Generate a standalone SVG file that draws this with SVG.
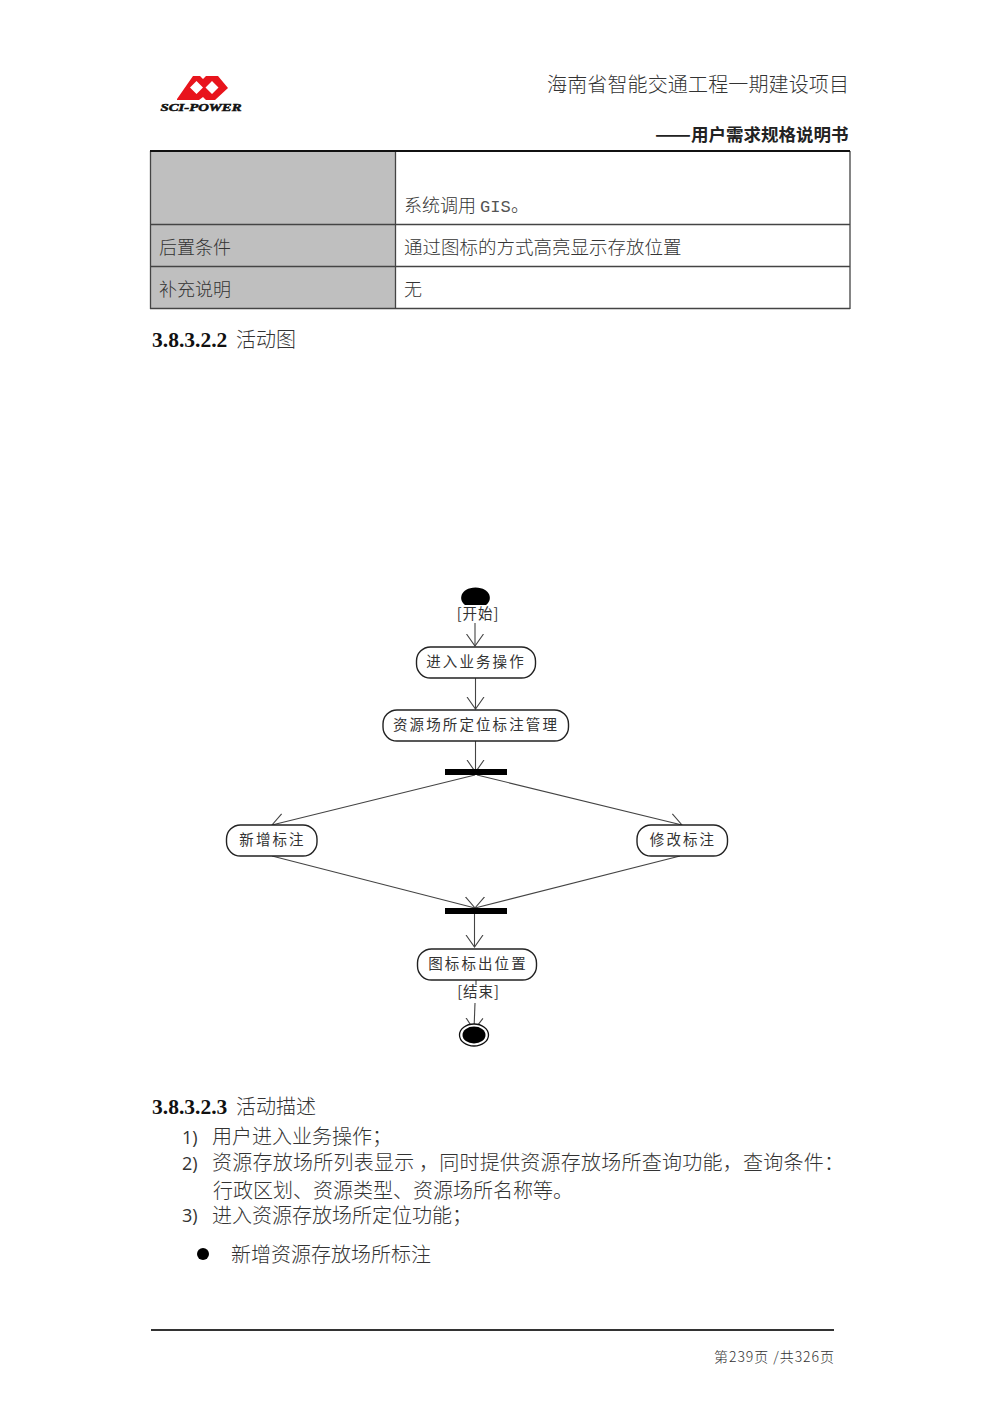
<svg xmlns="http://www.w3.org/2000/svg" width="1000" height="1415" viewBox="0 0 1000 1415">
<style>
text{font-family:"Noto Sans CJK SC","Liberation Serif",sans-serif;fill:#333;font-weight:300}
.b{font-size:20px}
.n{font-size:14.500px;letter-spacing:2.100px;text-anchor:middle;fill:#333;font-weight:400}
.g{font-size:14.500px;text-anchor:middle;letter-spacing:.9px;fill:#333;font-weight:400}
.h{font-family:"Liberation Serif",serif;font-weight:700;font-size:21.500px;fill:#111}
.l{font-family:"Open Sans",sans-serif;font-size:18px;font-weight:400}
.a{fill:#fff;stroke:#222;stroke-width:1.4}
.c line,.c path{fill:none;stroke:#444;stroke-width:1.1}
</style>
<defs>
<marker id="v" markerUnits="userSpaceOnUse" markerWidth="24" markerHeight="24" refX="12" refY="12" orient="auto"><path d="M0 3.500L12 12L0 20.500" fill="none" stroke="#444" stroke-width="1.1"/></marker>
</defs>
<rect width="1000" height="1415" fill="#fff"/>
<g id="logo">
<path d="M177 99L193 76H200L203 79L206 76H218L228 88L215 100H206L203 97L199 100H177Z" fill="#e8141c"/>
<path d="M196.500 81L203 87.500L196.500 94L190 87.500Z M212 81L218.500 87.500L212 94L205.500 87.500Z" fill="#fff"/>
<text x="201" y="111" text-anchor="middle" textLength="81" lengthAdjust="spacingAndGlyphs" style="font-family:'Liberation Serif',serif;font-size:10.500px;font-weight:700;font-style:italic;fill:#111;stroke:#111;stroke-width:.5">SCI-POWER</text>
</g>
<g id="header">
<text class="b" x="547" y="92" textLength="302">海南省智能交通工程一期建设项目</text>
<text x="655" y="141" textLength="36" lengthAdjust="spacingAndGlyphs" style="font-size:17.500px;font-weight:700;fill:#222">——</text>
<text x="691" y="141" style="font-size:17.500px;font-weight:700;fill:#222">用户需求规格说明书</text>
</g>
<g id="table">
<rect x="151" y="152" width="244" height="157" fill="#bfbfbf"/>
<path d="M150.500 309V151M395.500 152V309M850 151V309M150 224.500H850M150 266.500H850M150 308.500H850" fill="none" stroke="#444" stroke-width="1.300"/>
<path d="M150 151H850" stroke="#111" stroke-width="2.200"/>
<text x="404" y="212" style="font-size:18px">系统调用</text>
<text x="480" y="212" style="font-family:'Liberation Mono',monospace;font-size:17px;fill:#555;font-weight:400">GIS</text>
<text x="511" y="212" style="font-size:18px">。</text>
<text class="b" x="159" y="254" style="font-size:18px">后置条件</text>
<text class="b" x="404" y="254" style="font-size:18.500px">通过图标的方式高亮显示存放位置</text>
<text class="b" x="159" y="296" style="font-size:18px">补充说明</text>
<text class="b" x="404" y="296" style="font-size:18px">无</text>
</g>
<g id="heading1"><text class="h" x="152" y="347">3.8.3.2.2</text><text class="b" x="236" y="347">活动图</text></g>
<g class="c" id="connectors">
<line x1="475" y1="623" x2="475" y2="646" marker-end="url(#v)"/>
<line x1="475.500" y1="678" x2="475.500" y2="709" marker-end="url(#v)"/>
<line x1="475.500" y1="741" x2="475.500" y2="772" marker-end="url(#v)"/>
<line x1="475" y1="775" x2="272" y2="825" marker-end="url(#v)"/>
<line x1="477" y1="775" x2="682" y2="825" marker-end="url(#v)"/>
<line x1="272" y1="856" x2="475" y2="908" marker-end="url(#v)"/>
<line x1="680" y1="856" x2="475" y2="908" marker-end="url(#v)"/>
<line x1="474.500" y1="914" x2="474.500" y2="947" marker-end="url(#v)"/>
<line x1="476" y1="980" x2="476" y2="985"/>
<line x1="475" y1="1003" x2="474" y2="1030" marker-end="url(#v)"/>
</g>
<g id="start"><path d="M465 605C458 600 460 588 475.500 587.500C491 588 493 600 486 605Z" fill="#000"/><text class="g" x="478" y="619">[开始]</text></g>
<g id="n1"><rect class="a" x="416.500" y="647" width="119" height="31" rx="14"/><text class="n" x="476" y="667">进入业务操作</text></g>
<g id="n2"><rect class="a" x="383" y="710" width="185.500" height="31" rx="14"/><text class="n" x="476" y="730">资源场所定位标注管理</text></g>
<g id="fork"><rect x="445" y="769" width="62" height="6" fill="#000"/></g>
<g id="n3"><rect class="a" x="226.500" y="825" width="90.500" height="31" rx="14"/><text class="n" x="272.500" y="845">新增标注</text></g>
<g id="n4"><rect class="a" x="637" y="825" width="90.500" height="31" rx="14"/><text class="n" x="683" y="845">修改标注</text></g>
<g id="join"><rect x="445" y="908" width="62" height="6" fill="#000"/></g>
<g id="n5"><rect class="a" x="417.500" y="949" width="119" height="31" rx="14"/><text class="n" x="478" y="969">图标标出位置</text></g>
<g id="end"><text class="g" x="478.500" y="997">[结束]</text><ellipse cx="474" cy="1035" rx="14.500" ry="11" fill="#fff" stroke="#111" stroke-width="1.300"/><ellipse cx="474" cy="1035" rx="11.500" ry="8.500" fill="#000"/></g>
<g id="section">
<text class="h" x="152" y="1114">3.8.3.2.3</text><text class="b" x="236" y="1114">活动描述</text>
<text class="l" x="182" y="1144">1)</text><text class="b" x="212" y="1144">用户进入业务操作；</text>
<text class="l" x="182" y="1170">2)</text><text class="b" x="212" y="1170" textLength="632">资源存放场所列表显示 ，同时提供资源存放场所查询功能，查询条件：</text>
<text class="b" x="213" y="1198">行政区划、资源类型、资源场所名称等。</text>
<text class="l" x="182" y="1222">3)</text><text class="b" x="212" y="1223">进入资源存放场所定位功能；</text>
<circle cx="203" cy="1254" r="6" fill="#000"/><text class="b" x="231" y="1262">新增资源存放场所标注</text>
</g>
<g id="footer">
<path d="M151 1330H834" stroke="#333" stroke-width="1.800"/>
<text x="714" y="1362" textLength="120" style="font-size:14px">第239页 /共326页</text>
</g>
</svg>
